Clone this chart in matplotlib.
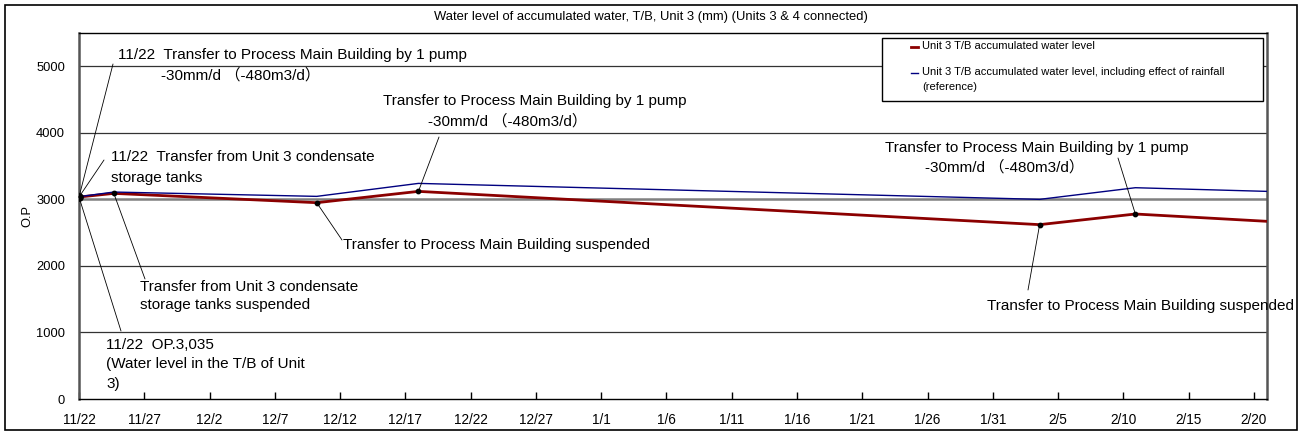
import matplotlib
matplotlib.use("Agg")
import matplotlib.pyplot as plt
from matplotlib.patches import Rectangle
from matplotlib.lines import Line2D
import pandas as pd

plt.rcParams['font.family'] = ['Liberation Sans', 'Noto Sans CJK JP', 'DejaVu Sans']

# ---- data ----
dates = pd.to_datetime(["2011-11-22 00:00", "2011-11-24 16:00", "2011-12-10 05:00",
                        "2011-12-18 00:00", "2012-02-03 14:00", "2012-02-10 22:00",
                        "2012-02-21 00:00"])
red_level = [3035, 3090, 2950, 3120, 2620, 2780, 2670]
blue_level = [3040, 3110, 3045, 3240, 3000, 3175, 3120]
marker_idx = [0, 1, 2, 3, 4, 5]

tick_labels = ["11/22", "11/27", "12/2", "12/7", "12/12", "12/17", "12/22", "12/27",
               "1/1", "1/6", "1/11", "1/16", "1/21", "1/26", "1/31", "2/5", "2/10",
               "2/15", "2/20"]
tick_pos = pd.date_range("2011-11-22", periods=len(tick_labels), freq="5D")
y_ticks = [0, 1000, 2000, 3000, 4000, 5000]

title = "Water level of accumulated water, T/B, Unit 3 (mm) (Units 3 & 4 connected)"
legend_labels = ["Unit 3 T/B accumulated water level",
                 "Unit 3 T/B accumulated water level, including effect of rainfall\n(reference)"]
series_colors = ["#8B0000", "#000080"]
series_widths = [2.0, 1.0]

W, H = 1302, 434
fig = plt.figure(figsize=(W / 100, H / 100), dpi=100)


def fpx(x, y):
    return (x / W, 1 - y / H)


L, T, R, B = 79, 33, 1267, 399
ax = fig.add_axes([L / W, 1 - B / H, (R - L) / W, (B - T) / H])

ax.set_xlim(pd.Timestamp("2011-11-22"), pd.Timestamp("2012-02-21"))
ax.set_ylim(0, 5500)

for yv in y_ticks[1:]:
    if yv == 3000:
        ax.axhline(yv, color="#808080", lw=1.8, zorder=1)
    else:
        ax.axhline(yv, color="#333333", lw=0.9, zorder=1)

ax.plot(dates, red_level, color=series_colors[0], lw=series_widths[0], zorder=3)
ax.plot(dates, blue_level, color=series_colors[1], lw=series_widths[1], zorder=3)
ax.scatter([dates[i] for i in marker_idx], [red_level[i] for i in marker_idx],
           s=10, color="black", zorder=5)
ax.scatter([dates[0]], [red_level[0]], s=28, color="black", zorder=5)

ax.set_xticks(tick_pos)
ax.set_xticklabels(tick_labels, fontsize=9.8)
ax.set_yticks(y_ticks)
ax.set_yticklabels([str(v) for v in y_ticks], fontsize=9.3)
ax.tick_params(axis="x", direction="in", length=5, width=1, pad=10, color="black")
ax.tick_params(axis="y", length=0, pad=10)
ax.set_ylabel("O.P", fontsize=9.3, labelpad=2)

for side in ["top", "bottom"]:
    ax.spines[side].set_color("black")
    ax.spines[side].set_linewidth(1.0)
for side in ["left", "right"]:
    ax.spines[side].set_color("#555555")
    ax.spines[side].set_linewidth(1.8)

fig.text(0.5, 1 - 17 / H, title, ha="center", va="center", fontsize=9.4)

# outer frame
fig.patches.append(Rectangle((5 / W, 1 - 430 / H), 1292 / W, 425 / H,
                             transform=fig.transFigure, fill=False,
                             edgecolor="black", lw=1.2))

# legend box drawn in figure pixels
lx0, ly0, lx1, ly1 = 882, 38, 1263, 101
fig.patches.append(Rectangle((lx0 / W, 1 - ly1 / H), (lx1 - lx0) / W, (ly1 - ly0) / H,
                             transform=fig.transFigure, facecolor="white",
                             edgecolor="black", lw=1.0, zorder=10))
legend_rows_y = [47, 73]
for label, col, lw_, yy in zip(legend_labels, series_colors, series_widths, legend_rows_y):
    fig.lines.append(Line2D([911 / W, 918 / W], [1 - yy / H, 1 - yy / H],
                            transform=fig.transFigure, color=col, lw=lw_, zorder=11))
    fig.text(922 / W, 1 - (yy - 6) / H, label, ha="left", va="top", fontsize=8.0,
             linespacing=1.6, zorder=11)

fs = 11
paren = "-30mm/d \uff08-480m3/d\uff09"

# annotations: (point index, leader end px)
leaders = [(0, (113, 64)), (0, (104, 160)), (3, (439, 137)), (2, (342, 240)),
           (1, (145, 279)), (0, (121, 331)), (5, (1118, 158)), (4, (1028, 290))]
for idx, (x, y) in leaders:
    ax.annotate("", xy=(dates[idx], red_level[idx]), xycoords="data",
                xytext=fpx(x, y), textcoords="figure fraction",
                arrowprops=dict(arrowstyle="-", lw=0.6, color="black",
                                shrinkA=0, shrinkB=0))

texts = [
    ("11/22  Transfer to Process Main Building by 1 pump", 118, 55),
    (paren, 161, 75),
    ("11/22  Transfer from Unit 3 condensate", 111, 157),
    ("storage tanks", 111, 178),
    ("Transfer to Process Main Building by 1 pump", 383, 101),
    (paren, 428, 121),
    ("Transfer to Process Main Building suspended", 343, 245),
    ("Transfer from Unit 3 condensate", 140, 287),
    ("storage tanks suspended", 140, 305),
    ("11/22  OP.3,035", 106, 345),
    ("(Water level in the T/B of Unit", 106, 364),
    ("3)", 106, 384),
    ("Transfer to Process Main Building by 1 pump", 885, 148),
    (paren, 925, 167),
    ("Transfer to Process Main Building suspended", 987, 306),
]
for s, x, y in texts:
    fig.text(*fpx(x, y), s, ha="left", va="center", fontsize=fs)

fig.savefig("out.png", dpi=100)
